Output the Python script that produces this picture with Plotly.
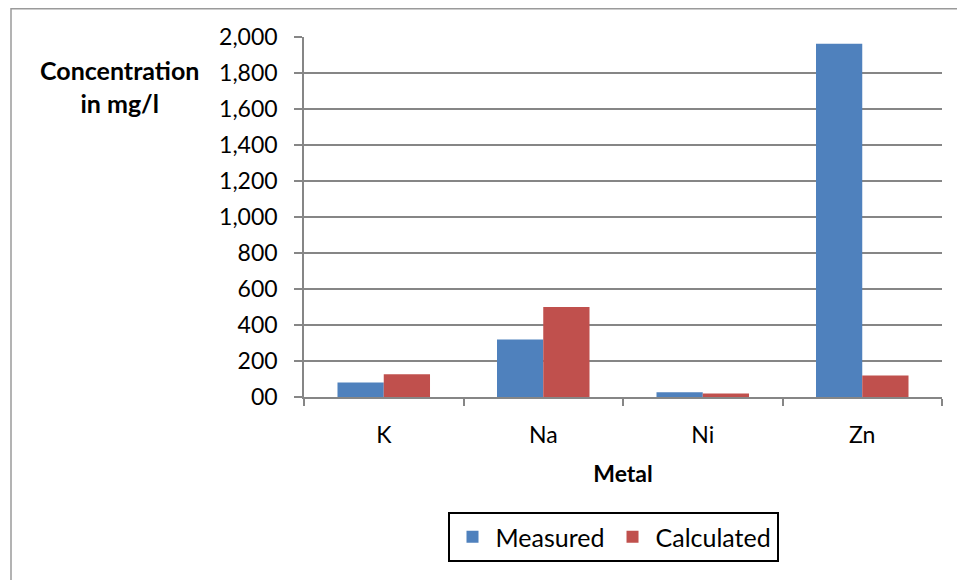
import plotly.graph_objects as go

metals = ["K", "Na", "Ni", "Zn"]
measured = [80, 320, 26, 1962]
calculated = [126, 500, 20, 120]
y_tickvals = [0, 200, 400, 600, 800, 1000, 1200, 1400, 1600, 1800, 2000]
y_ticktext = ["00", "200", "400", "600", "800", "1,000", "1,200", "1,400", "1,600", "1,800", "2,000"]

FONT = "Lato, Carlito, Calibri, sans-serif"

# the page body adds an 8px offset; plot area in figure coordinates
L, R, T, B = 296, 934, 29, 389
H = B - T
W = R - L

fig = go.Figure()
fig.add_trace(go.Bar(x=metals, y=measured, name="Measured",
                     marker=dict(color="#4F81BD", line=dict(width=0))))
fig.add_trace(go.Bar(x=metals, y=calculated, name="Calculated",
                     marker=dict(color="#C0504D", line=dict(width=0))))

fig.update_layout(
    width=965, height=580,
    paper_bgcolor="white", plot_bgcolor="white",
    margin=dict(l=L, r=965 - R, t=T, b=580 - B),
    barmode="group", bargap=0.42, bargroupgap=0,
    font=dict(family=FONT, size=23, color="black"),
    xaxis=dict(
        showline=True, linecolor="#868686", linewidth=1.5,
        ticks="outside", tickson="boundaries", ticklen=7, tickcolor="#868686",
        tickwidth=1.5, tickfont=dict(size=23), showgrid=False,
        ticklabelstandoff=17,
        title=dict(text="<b>Metal</b>", font=dict(size=23), standoff=19),
    ),
    yaxis=dict(
        range=[0, 2000], tickvals=y_tickvals, ticktext=y_ticktext,
        showline=True, linecolor="#868686", linewidth=1.5,
        ticks="outside", ticklen=8, tickcolor="#868686", tickwidth=1.5,
        showgrid=True, gridcolor="#868686", gridwidth=1.5,
        tickfont=dict(size=23), zeroline=False, ticklabelstandoff=12,
    ),
    legend=dict(
        orientation="h", x=(605 - L) / W, xanchor="center",
        y=(B - 504) / H, yanchor="top",
        bordercolor="black", borderwidth=2, font=dict(size=25),
        bgcolor="white", itemsizing="constant", itemwidth=36,
    ),
    annotations=[dict(
        text="<b>Concentration<br>in mg/l</b>", xref="paper", yref="paper",
        x=(111 - L) / W, y=(B - 79) / H, xanchor="center", yanchor="middle",
        showarrow=False, font=dict(size=25), align="center",
    )],
    shapes=[dict(type="rect", xref="paper", yref="paper",
                 x0=(3 - L) / W, x1=(990 - L) / W,
                 y0=(B - 600) / H, y1=(B - 0.75) / H,
                 line=dict(color="#9a9a9a", width=1.5), layer="below")],
)

fig.write_html("out.html")
